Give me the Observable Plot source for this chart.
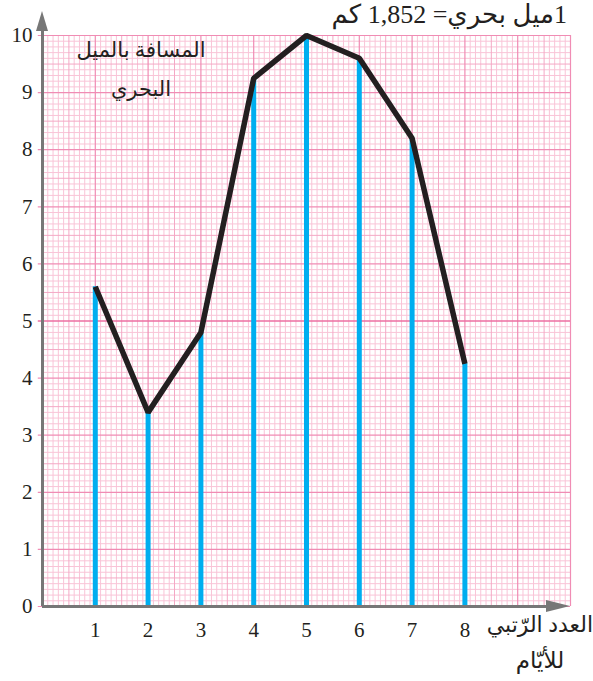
<!DOCTYPE html>
<html>
<head>
<meta charset="utf-8">
<script src="https://cdn.jsdelivr.net/npm/d3@7"></script>
<script src="https://cdn.jsdelivr.net/npm/@observablehq/plot@0.6"></script>
<style>
  html, body { margin: 0; padding: 0; background: #fff; }
  svg { display: block; }
</style>
</head>
<body>
<div id="chart"></div>
<script>
// ---- data ----
const days = [1, 2, 3, 4, 5, 6, 7, 8];
const distances = [5.6, 3.4, 4.8, 9.25, 10, 9.6, 8.2, 4.25];
const xTicks = [1, 2, 3, 4, 5, 6, 7, 8];
const yTicks = [0, 1, 2, 3, 4, 5, 6, 7, 8, 9, 10];
const topNote = "1ميل بحري= 1,852 كم";
const yTitle = ["المسافة بالميل", "البحري"];
const xTitle = ["العدد الرّتبي", "للأيّام"];

const data = days.map((d, i) => ({day: d, dist: distances[i]}));

const fine = d3.range(0, 101).map(i => i / 10);
const minor = fine.filter(v => Math.round(v * 10) % 5 !== 0);
const half = fine.filter(v => Math.round(v * 10) % 10 === 5);
const unit = d3.range(0, 11).filter(v => v !== 5);

const serif = "'Liberation Serif', 'Times New Roman', serif";

const chart = Plot.plot({
  width: 593,
  height: 681,
  marginLeft: 42,
  marginRight: 23,
  marginTop: 35,
  marginBottom: 75,
  x: {domain: [0, 10], axis: null},
  y: {domain: [0, 10], axis: null},
  style: {background: "#fff", overflow: "visible"},
  marks: [
    // graph paper
    Plot.ruleX(minor, {x: d => d, y1: 0, y2: 10, stroke: "#f9c4d7", strokeWidth: 1}),
    Plot.ruleY(minor, {y: d => d, x1: 0, x2: 10, stroke: "#f9c4d7", strokeWidth: 1}),
    Plot.ruleX(half, {x: d => d, y1: 0, y2: 10, stroke: "#f4a8c5", strokeWidth: 1}),
    Plot.ruleY(half, {y: d => d, x1: 0, x2: 10, stroke: "#f4a8c5", strokeWidth: 1}),
    Plot.ruleX(unit, {x: d => d, y1: 0, y2: 10, stroke: "#f08cb4", strokeWidth: 1.2}),
    Plot.ruleY(unit, {y: d => d, x1: -0.08, x2: 10, stroke: "#f08cb4", strokeWidth: 1.2}),
    Plot.ruleX([5], {x: d => d, y1: 0, y2: 10, stroke: "#ec6fa2", strokeWidth: 1.6}),
    Plot.ruleY([5], {y: d => d, x1: -0.08, x2: 10, stroke: "#ec6fa2", strokeWidth: 1.6}),
    // bars
    Plot.ruleX(data, {x: "day", y1: 0, y2: "dist", stroke: "#00aeef", strokeWidth: 5}),
    // line
    Plot.line(data, {x: "day", y: "dist", stroke: "#231f20", strokeWidth: 5.5, strokeLinejoin: "miter", strokeLinecap: "butt"}),
    // axes
    Plot.ruleX([0], {x: d => d, y1: 0, y2: 10.1, stroke: "#777", strokeWidth: 3}),
    Plot.ruleY([0], {y: d => d, x1: 0, x2: 9.6, stroke: "#777", strokeWidth: 3}),
    // tick labels
    Plot.text(yTicks, {x: 0, y: d => d, dx: -10, textAnchor: "end", text: d => String(d), fontSize: 21, fontFamily: serif, fill: "#231f20"}),
    Plot.text(xTicks, {x: d => d, y: 0, dy: 24, text: d => String(d), fontSize: 21, fontFamily: serif, fill: "#231f20"})
  ]
});

const svg = d3.select(chart);
const sx = chart.scale("x"), sy = chart.scale("y");
const x0 = sx.apply(0), y0 = sy.apply(0);
// axis arrowheads
const yTip = sy.apply(10.42);
svg.append("path")
  .attr("d", `M${x0},${yTip} L${x0 - 6},${yTip + 20} L${x0 + 6},${yTip + 20} Z`)
  .attr("fill", "#777");
const xTip = sx.apply(10);
svg.append("path")
  .attr("d", `M${xTip},${y0} L${xTip - 24},${y0 - 6} L${xTip - 24},${y0 + 6} Z`)
  .attr("fill", "#777");

function rtlText(txt, x, y, size, anchor) {
  svg.append("text")
    .attr("x", x).attr("y", y)
    .attr("direction", "rtl")
    .attr("text-anchor", anchor)
    .attr("dominant-baseline", "middle")
    .style("font-family", "'Liberation Serif', 'Times New Roman', 'DejaVu Sans', sans-serif")
    .style("font-size", size + "px")
    .attr("fill", "#231f20")
    .text(txt);
}
// top note
rtlText(topNote, 567, 17, 26, "start");
// y title inside plot
rtlText(yTitle[0], 141, 52, 21, "middle");
rtlText(yTitle[1], 141, 91, 21, "middle");
// x title
rtlText(xTitle[0], 593, 627, 22, "start");
rtlText(xTitle[1], 540, 663, 23, "middle");

document.getElementById("chart").appendChild(chart);
</script>
</body>
</html>
